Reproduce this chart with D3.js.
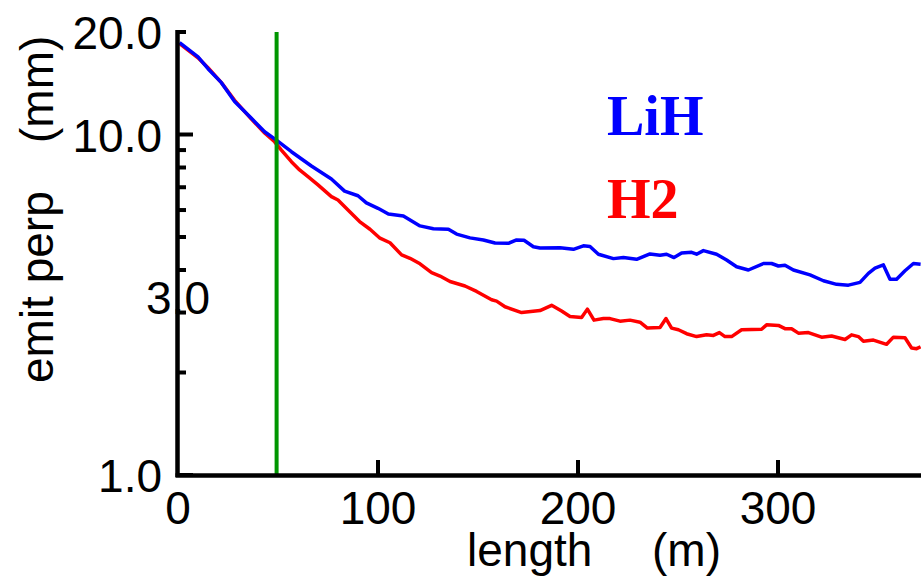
<!DOCTYPE html>
<html>
<head>
<meta charset="utf-8">
<script src="https://cdn.jsdelivr.net/npm/d3@7"></script>
<style>
  html, body { margin: 0; padding: 0; background: #fff; }
  svg { display: block; }
  text { font-family: "Liberation Sans", Arial, sans-serif; fill: #000; }
  text.legend { font-family: "Liberation Serif", "DejaVu Serif", serif; font-weight: bold; }
</style>
</head>
<body>
<svg id="chart" width="921" height="576"></svg>
<script>
// ---- data ----
const lihLength = [0.8, 5, 10, 15, 21.7, 28.3, 36.7, 43.3, 49.2, 56.7, 66.7, 76.7, 83.3, 90, 94.2, 100,
  105.2, 112.7, 121, 127.7, 135.2, 139.3, 146, 152.7, 158.5, 165.2, 169.3, 173, 177.7, 181, 191,
  197.7, 202.7, 206, 210.2, 217.7, 222.7, 229.3, 236, 241, 244.3, 248, 251.8, 256.8, 259.3, 262.7,
  269.3, 274.3, 279.3, 285.2, 292.7, 296.8, 300.2, 303.5, 307.7, 316, 322.7, 329.3, 335.2, 341,
  345.2, 348.5, 352.7, 356, 359.3, 363.5, 367.7, 371.3];
const lihEmit = [18.6, 17.8, 16.9, 15.6, 14.2, 12.5, 11.16, 10.19, 9.63, 8.90, 8.08, 7.40, 6.82, 6.61, 6.30, 6.07,
  5.84, 5.76, 5.39, 5.29, 5.27, 5.10, 4.97, 4.90, 4.80, 4.79, 4.90, 4.89, 4.68, 4.64, 4.65,
  4.60, 4.71, 4.69, 4.45, 4.32, 4.35, 4.30, 4.46, 4.42, 4.45, 4.35, 4.49, 4.51, 4.45, 4.56,
  4.45, 4.28, 4.09, 4.00, 4.18, 4.18, 4.11, 4.13, 4.00, 3.87, 3.72, 3.63, 3.61, 3.68,
  3.91, 4.05, 4.14, 3.76, 3.76, 3.98, 4.18, 4.16];

const h2Length = [0.8, 5, 10, 15, 21.7, 28.3, 36.7, 43.3, 48.3, 51.7, 56.7, 60.8, 65, 70, 76.7, 80, 85, 90.8,
  96, 101, 106, 111.8, 116, 121, 126.8, 131, 136, 143.5, 149.3, 156.8, 159.3, 163.5, 171.8, 181, 186.8,
  191.8, 196, 201.8, 204.7, 208, 212.7, 216, 221, 226, 231, 234.7, 241, 244, 246.8, 250.2, 254.3, 259.3,
  264.3, 267.7, 270.7, 273.5, 276.8, 281.8, 291.8, 294.3, 300.2, 303.5, 306.8, 310.2, 315.2, 321.8,
  326.8, 333.5, 336.8, 340.2, 342.7, 347.7, 354.3, 357.7, 363.5, 366.8, 369.3, 371.3];
const h2Emit = [18.5, 17.7, 16.8, 15.7, 14.2, 12.6, 11.1, 10.1, 9.52, 9.00, 8.32, 7.87, 7.52, 7.11, 6.57, 6.42, 6.00, 5.55,
  5.27, 4.96, 4.81, 4.43, 4.33, 4.17, 3.93, 3.84, 3.70, 3.59, 3.46, 3.27, 3.24, 3.12, 3.00, 3.04, 3.15,
  3.03, 2.92, 2.90, 3.07, 2.85, 2.88, 2.88, 2.83, 2.85, 2.81, 2.70, 2.71, 2.88, 2.70, 2.67, 2.60, 2.55,
  2.58, 2.57, 2.62, 2.55, 2.55, 2.67, 2.68, 2.76, 2.75, 2.69, 2.69, 2.61, 2.62, 2.54,
  2.56, 2.50, 2.58, 2.55, 2.47, 2.49, 2.42, 2.54, 2.53, 2.36, 2.35, 2.38];

const markerLength = 49.3;
const xTicks = [100, 200, 300];
const xTickLabels = ["0", "100", "200", "300"];
const xLabelValues = [0, 100, 200, 300];
const yMajorTicks = [1, 10];
const yMinorTicks = [2, 3, 4, 5, 6, 7, 8, 9, 20];
const yLabelValues = [1, 10, 20];
const yLabels = ["1.0", "10.0", "20.0"];
const yInsideLabelValue = 3;
const yInsideLabel = "3.0";
const seriesNames = ["LiH", "H2"];
const seriesColors = ["#0000ff", "#ff0000"];

// ---- layout ----
(function () {
const svg = d3.select("#chart");
const pLeft = 178, pRight = 921, pTop = 32, pBottom = 475;
const x = d3.scaleLinear().domain([0, 371.5]).range([pLeft, pRight]);
const y = d3.scaleLog().domain([1, 20]).range([pBottom, pTop]);

svg.append("defs").append("clipPath").attr("id", "plotclip")
  .append("rect").attr("x", pLeft).attr("y", pTop - 5).attr("width", pRight - pLeft).attr("height", pBottom - pTop + 10);

// y tick labels
svg.selectAll("text.ylab").data(yLabelValues).enter().append("text")
  .attr("class", "ylab")
  .attr("x", 162).attr("y", d => y(d) + 17)
  .attr("text-anchor", "end").attr("font-size", 46)
  .text((d, i) => yLabels[i]);
// odd inside label
svg.append("text")
  .attr("x", pLeft).attr("y", y(yInsideLabelValue) + 1)
  .attr("text-anchor", "middle").attr("font-size", 46)
  .text(yInsideLabel);

// x tick labels
svg.selectAll("text.xlab").data(xLabelValues).enter().append("text")
  .attr("class", "xlab")
  .attr("x", d => x(d)).attr("y", 524)
  .attr("text-anchor", "middle").attr("font-size", 46)
  .text((d, i) => xTickLabels[i]);

// axis labels
const xl = svg.append("text").attr("y", 566).attr("font-size", 46);
xl.append("tspan").attr("x", 467).text("length");
xl.append("tspan").attr("x", 652).text("(m)");

const yl = svg.append("text").attr("transform", "rotate(-90)").attr("y", 53).attr("font-size", 46);
yl.append("tspan").attr("x", -383).text("emit perp");
yl.append("tspan").attr("x", -143).text("(mm)");

// lines
const line = d3.line().x(d => x(d[0])).y(d => y(d[1]));
const g = svg.append("g").attr("clip-path", "url(#plotclip)");
const h2Data = h2Length.map((v, i) => [v, h2Emit[i]]);
const lihData = lihLength.map((v, i) => [v, lihEmit[i]]);
g.append("path").datum(h2Data).attr("d", line)
  .attr("fill", "none").attr("stroke", seriesColors[1]).attr("stroke-width", 3.5).attr("stroke-linejoin", "round");
g.append("path").datum(lihData).attr("d", line)
  .attr("fill", "none").attr("stroke", seriesColors[0]).attr("stroke-width", 3.5).attr("stroke-linejoin", "round");

// green marker
svg.append("line")
  .attr("x1", x(markerLength)).attr("x2", x(markerLength))
  .attr("y1", pTop).attr("y2", pBottom)
  .attr("stroke", "#009600").attr("stroke-width", 4);

// axes
const yAxis = svg.append("g");
yAxis.selectAll("line.maj").data(yMajorTicks).enter().append("line")
  .attr("class", "maj")
  .attr("x1", pLeft).attr("x2", pLeft + 15).attr("y1", d => y(d)).attr("y2", d => y(d))
  .attr("stroke", "#000").attr("stroke-width", 4);
yAxis.selectAll("line.min").data(yMinorTicks).enter().append("line")
  .attr("class", "min")
  .attr("x1", pLeft).attr("x2", pLeft + 8).attr("y1", d => y(d)).attr("y2", d => y(d))
  .attr("stroke", "#000").attr("stroke-width", 4);
svg.selectAll("line.xt").data(xTicks).enter().append("line")
  .attr("class", "xt")
  .attr("x1", d => x(d)).attr("x2", d => x(d)).attr("y1", pBottom).attr("y2", pBottom - 15)
  .attr("stroke", "#000").attr("stroke-width", 4);
svg.append("line").attr("x1", pLeft - 0.5).attr("x2", pLeft - 0.5).attr("y1", pTop - 2).attr("y2", pBottom + 2)
  .attr("stroke", "#000").attr("stroke-width", 4.5);
svg.append("line").attr("x1", pLeft - 2.5).attr("x2", pRight).attr("y1", pBottom + 0.5).attr("y2", pBottom + 0.5)
  .attr("stroke", "#000").attr("stroke-width", 4.5);

// legend-like labels
const legendY = [135, 218];
seriesNames.forEach((n, i) => {
  svg.append("text")
    .attr("class", "legend")
    .attr("x", 607).attr("y", legendY[i])
    .attr("font-size", 56)
    .style("fill", seriesColors[i])
    .text(n);
});
})();
</script>
</body>
</html>
